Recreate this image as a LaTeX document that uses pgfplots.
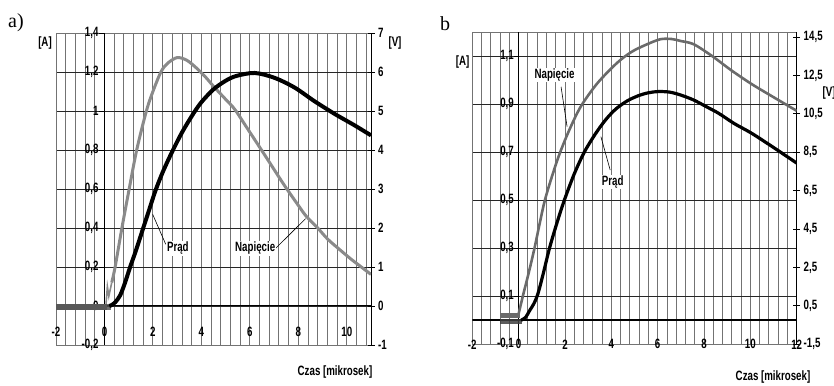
\documentclass[border=0pt]{standalone}
\usepackage{pgfplots}
\pgfplotsset{compat=1.18}
\usepackage{fontspec}
\setmainfont{Liberation Sans}[FakeStretch=0.72]
\newfontfamily\serifa{Liberation Serif}
\newcommand\lf{\fontsize{13.5}{15}\selectfont\bfseries}
\definecolor{vgray}{HTML}{8A8A8A}
\definecolor{vgrayb}{HTML}{6A6A6A}
\pgfplotsset{
  base/.style={scale only axis, anchor=south west, height=312pt,
    ticklabel style={font=\lf},
    /pgf/number format/use comma,
    /pgf/number format/assume math mode=true,
    /pgf/number format/fixed,
  },
  gridax/.style={
    xmajorgrids, xminorgrids, ymajorgrids,
    major x grid style={black!55, line width=0.9pt},
    minor x grid style={black!55, line width=0.9pt},
    major y grid style={black!85, line width=0.9pt},
    axis line style={black!55, line width=0.9pt},
    tick style={draw=none},
  },
  vax/.style={
    axis x line=none, axis y line*=right,
    axis line style={-, black, line width=1pt},
    tick align=center, major tick length=7pt,
    y tick style={black, line width=0.8pt},
    yticklabel style={anchor=west},
  },
}
\tikzset{lab/.style={font=\lf, fill=white, inner sep=1pt}}
\begin{document}
\begin{tikzpicture}
\useasboundingbox (0,0) rectangle (834pt,385pt);
% ================= LEFT CHART (a) =================
\begin{axis}[base, gridax, at={(56pt,40pt)}, width=315pt,
  xmin=-2, xmax=11, ymin=-0.2, ymax=1.4,
  xtick={-2,0,2,4,6,8,10,12}, minor x tick num=4,
  ytick={-0.2,0,0.2,0.4,0.6,0.8,1,1.2,1.4},
  xticklabel style={anchor=center, yshift=13pt},
  yticklabel style={anchor=east, xshift=46pt},
]
\draw[black, line width=1pt] (axis cs:0,-0.2) -- (axis cs:0,1.4);
\draw[black, line width=1pt] (axis cs:-2,0) -- (axis cs:11,0);
\pgfplotsinvokeforeach{-0.2,0,0.2,0.4,0.6,0.8,1,1.2,1.4}{\draw[black, line width=0.8pt] (axis cs:0,#1) -- ++(-5pt,0pt);}
\end{axis}
\begin{axis}[base, vax, at={(56pt,40pt)}, width=315pt,
  xmin=-2, xmax=11, ymin=-1, ymax=7,
  ytick={-1,0,1,2,3,4,5,6,7},
]
\addplot[vgray, line width=6pt] coordinates {(-2,-0.02) (0.1,-0.02)};
\addplot[vgray, line width=1.6pt] coordinates {(0.06,0) (0.12,0.5) (0.18,0.25) (0.3,0.6)};
\addplot[vgray, line width=3pt, smooth] coordinates {
(0.3,0.6) (0.44,1.0) (0.72,2.0) (1.02,3.0) (1.33,4.0) (1.73,5.0) (2.0,5.5) (2.33,6.0)
(2.6,6.22) (3.0,6.37) (3.4,6.3) (3.8,6.1) (4.2,5.85) (4.49,5.64) (5.0,5.3) (5.38,5.04)
(5.9,4.55) (6.48,4.0) (7.0,3.5) (7.44,3.08) (8.0,2.58) (8.33,2.3) (8.8,2.0) (9.22,1.71)
(9.7,1.45) (10.18,1.2) (10.6,1.0) (11.0,0.81)};
\end{axis}
\begin{axis}[base, at={(56pt,40pt)}, width=315pt,
  xmin=-2, xmax=11, ymin=-0.2, ymax=1.4, hide axis]
\addplot[black!70, line width=6pt, opacity=0.8] coordinates {(-2,-0.005) (0.25,-0.005)};
\addplot[black, line width=4pt, smooth] coordinates {
(0.2,0) (0.3,0.005) (0.45,0.02) (0.65,0.055) (0.85,0.12) (1.06,0.2) (1.3,0.285) (1.6,0.4)
(1.85,0.495) (2.1,0.59) (2.4,0.685) (2.77,0.785) (3.2,0.89) (3.66,0.985) (4.0,1.045)
(4.49,1.11) (5.0,1.155) (5.45,1.18) (6.2,1.195) (7.02,1.17) (7.85,1.12) (8.67,1.05)
(9.5,0.985) (10.3,0.928) (11.0,0.875)};
\draw[black, line width=0.6pt] (axis cs:1.99,0.47) -- (axis cs:2.53,0.316);
\node[lab] at (axis cs:3.03,0.296) {Prąd};
\draw[black, line width=0.6pt] (axis cs:7.02,0.29) -- (axis cs:8.3,0.448);
\node[lab] at (axis cs:6.22,0.296) {Napięcie};
\end{axis}
\node[font=\lf] at (45pt,342pt) {[A]};
\node[font=\lf] at (395pt,342pt) {[V]};
\node[font=\lf] at (335pt,13pt) {Czas [mikrosek]};
\node[font=\serifa\fontsize{20}{22}\selectfont] at (16pt,362pt) {a)};
% ================= RIGHT CHART (b) =================
\begin{axis}[base, gridax, at={(472.3pt,40.7pt)}, width=324.4pt,
  xmin=-2, xmax=12, ymin=-0.1, ymax=1.2,
  xtick={-2,0,2,4,6,8,10,12}, minor x tick num=4,
  ytick={-0.1,0.1,0.3,0.5,0.7,0.9,1.1},
  xticklabel style={anchor=center, yshift=0pt},
  yticklabel style={anchor=east, xshift=45pt},
]
\draw[black, line width=1pt] (axis cs:0,-0.1) -- (axis cs:0,1.2);
\draw[black, line width=1.8pt] (axis cs:-2,0) -- (axis cs:12,0);
\pgfplotsinvokeforeach{0.1,0.3,0.5,0.7,0.9,1.1}{\draw[black, line width=0.8pt] (axis cs:0,#1) -- ++(-5pt,0pt);}
\end{axis}
\begin{axis}[base, vax, at={(472.3pt,40.7pt)}, width=324.4pt,
  xmin=-2, xmax=12, ymin=-1.5, ymax=14.75,
  ytick={-1.5,0.5,2.5,4.5,6.5,8.5,10.5,12.5,14.5},
]
\addplot[vgrayb, line width=5pt] coordinates {(-0.8,0) (0.05,0)};
\addplot[vgrayb, line width=2.6pt, smooth] coordinates {
(0,0.1) (0.19,1.05) (0.45,2.3) (0.69,3.54) (0.9,4.75) (1.12,5.95) (1.4,7.1) (1.76,8.4)
(2.2,9.7) (2.69,10.9) (3.4,12.1) (4.26,13.17) (4.9,13.75) (5.55,14.13) (6.12,14.39)
(6.6,14.4) (6.98,14.3) (7.55,14.13) (8.34,13.52) (9.2,12.75) (10.06,12.05) (11.0,11.37)
(12.0,10.66)};
\end{axis}
\begin{axis}[base, at={(472.3pt,40.7pt)}, width=324.4pt,
  xmin=-2, xmax=12, ymin=-0.1, ymax=1.2, hide axis]
\addplot[black!75, line width=5pt, opacity=0.85] coordinates {(-0.8,-0.005) (0.15,-0.005)};
\addplot[black, line width=3.2pt, smooth] coordinates {
(0.1,0) (0.3,0.012) (0.47,0.04) (0.65,0.068) (0.83,0.11) (1.05,0.19) (1.33,0.3)
(1.65,0.405) (1.97,0.5) (2.4,0.61) (2.83,0.7) (3.3,0.775) (3.75,0.835) (4.19,0.88)
(4.7,0.915) (5.2,0.937) (5.6,0.948) (6.0,0.953) (6.5,0.951) (6.98,0.939) (7.55,0.918)
(8.1,0.89) (8.63,0.8625) (9.3,0.82) (10.06,0.779) (11.0,0.72) (12.0,0.655)};
\draw[black, line width=0.6pt] (axis cs:1.83,0.973) -- (axis cs:2.09,0.807);
\node[lab] at (axis cs:1.55,1.022) {Napięcie};
\draw[black, line width=0.6pt] (axis cs:3.55,0.765) -- (axis cs:3.95,0.626);
\node[lab] at (axis cs:4.06,0.576) {Prąd};
\end{axis}
\node[font=\lf] at (462.7pt,323.3pt) {[A]};
\node[font=\lf] at (829pt,292pt) {[V]};
\node[font=\lf] at (773pt,8.3pt) {Czas [mikrosek]};
\node[font=\serifa\fontsize{20}{22}\selectfont] at (445pt,361pt) {b};
\end{tikzpicture}
\end{document}
